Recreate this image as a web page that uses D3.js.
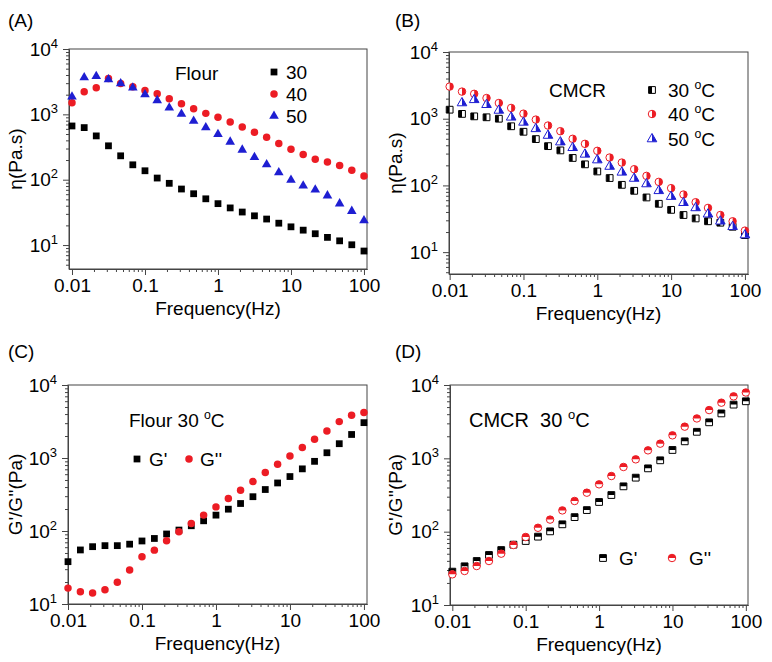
<!DOCTYPE html>
<html>
<head>
<meta charset="utf-8">
<script src="https://cdn.jsdelivr.net/npm/d3@7"></script>
<style>
  body { margin: 0; background: #fff; }
  svg { font-family: "Liberation Sans", Arial, sans-serif; }
  .axis path, .axis line { stroke: #444; }
  .axis text { font-size: 19px; fill: #000; font-family: "Liberation Sans", Arial, sans-serif; }
</style>
</head>
<body>
<svg id="chart" width="772" height="662">
  <defs>
    <clipPath id="half-left" clipPathUnits="objectBoundingBox"><rect x="0" y="0" width="0.5" height="1"/></clipPath>
    <clipPath id="half-right" clipPathUnits="objectBoundingBox"><rect x="0.5" y="0" width="0.5" height="1"/></clipPath>
    <clipPath id="half-top" clipPathUnits="objectBoundingBox"><rect x="0" y="0" width="1" height="0.5"/></clipPath>
  </defs>
</svg>
<script>
// frequency steps (Hz), 6 per decade
const freq = [0.01, 0.0147, 0.0215, 0.0316, 0.0464, 0.0681, 0.1, 0.147, 0.215, 0.316, 0.464, 0.681,
              1, 1.47, 2.15, 3.16, 4.64, 6.81, 10, 14.7, 21.5, 31.6, 46.4, 68.1, 100];

// (A) flour viscosity
const flour30 = [664, 627, 468, 330, 232, 169, 137, 106, 88, 72, 61, 51, 43, 37, 32, 28, 25, 21.6, 19, 16.9, 14.9, 13.1, 11.6, 10.1, 8.1];
const flour40 = [1507, 2213, 2547, 3532, 2965, 2636, 2317, 2064, 1733, 1453, 1219, 1035, 900, 764, 641, 532, 447, 357, 293, 243, 206, 186, 165, 140, 114];
const flour50 = [1858, 3656, 3833, 3413, 2965, 2547, 2017, 1635, 1264, 1012, 791, 627, 496, 379, 286, 221, 171, 129, 99, 81, 70, 57, 43, 33, 23.8];

// (B) CMCR viscosity
const cmcr30 = [1365, 1180, 1085, 1050, 1000, 770, 637, 495, 388, 335, 258, 207, 162, 129, 102, 83, 66, 53, 43, 36, 32, 29, 27.6, 24, 18];
const cmcr40 = [3030, 2550, 2360, 2040, 1720, 1450, 1190, 970, 790, 650, 500, 420, 330, 262, 220, 175, 139, 113, 91, 73, 56, 46, 36, 29, 21];
const cmcr50 = [null, 1720, 1920, 1620, 1330, 1050, 880, 705, 560, 446, 367, 292, 240, 192, 157, 127, 105, 83, 68, 55, 46, 37, 29, 24, 18];

// (C) flour moduli at 30 C
const flourG1 = [38, 55, 61, 63, 63, 66, 73, 79, 91, 103, 118, 138, 165, 199, 238, 295, 370, 455, 557, 710, 900, 1180, 1570, 2100, 3050];
const flourG2 = [16.5, 14.7, 14.1, 15.7, 19.8, 29.2, 44.4, 54.7, 73.4, 97.5, 127, 165, 214, 279, 362, 476, 632, 822, 1069, 1390, 1807, 2350, 3150, 3845, 4186];

// (D) CMCR moduli at 30 C
const cmcrG1 = [28.5, 33.7, 39.8, 48.1, 56.2, 66.5, 74.6, 85.5, 101, 126, 158, 197, 254, 316, 415, 545, 730, 940, 1300, 1706, 2300, 3100, 4100, 5400, 6000];
const cmcrG2 = [26.2, 29.1, 34, 39.8, 50.1, 65.8, 84.6, 113, 146, 195, 262, 340, 442, 574, 762, 969, 1285, 1585, 2059, 2704, 3500, 4550, 5740, 7000, 7900];

const xTicks = [0.01, 0.1, 1, 10, 100];
const yTicks = [10, 100, 1000, 10000];

const RED = "#ec1c24", BLUE = "#1e1ed2", BLACK = "#000";
const FONT = 19;

const svg = d3.select("#chart");

//==================== helpers ====================
const symbolSize = { square: 46, circle: 44, triangle: 40 };

function marker(g, shape, color, fill, cx, cy) {
  const type = shape === "square" ? d3.symbolSquare : shape === "circle" ? d3.symbolCircle : d3.symbolTriangle;
  const d = d3.symbol().type(type).size(symbolSize[shape])();
  const m = g.append("g").attr("transform", `translate(${cx},${cy})`);
  if (fill === "full") {
    m.append("path").attr("d", d).attr("fill", color);
    return;
  }
  m.append("path").attr("d", d).attr("fill", "#fff").attr("stroke", color).attr("stroke-width", 1);
  m.append("path").attr("d", d).attr("fill", color).attr("clip-path", `url(#half-${fill})`);
}

// text with optional superscript pieces: [{t:"30 "},{t:"o",sup:true},{t:"C"}]
function richText(g, x, y, parts, size, anchor) {
  const txt = g.append("text").attr("x", x).attr("y", y).attr("font-size", size)
    .attr("text-anchor", anchor || "start").attr("fill", "#000");
  let up = false;
  parts.forEach(p => {
    const ts = txt.append("tspan").text(p.t);
    if (p.sup && !up) { ts.attr("dy", -size * 0.42).attr("font-size", size * 0.65); up = true; }
    else if (p.sup) { ts.attr("font-size", size * 0.65); }
    else if (up) { ts.attr("dy", size * 0.42); up = false; }
  });
  return txt;
}

function minorTicks(domain) {
  const out = [];
  const e0 = Math.floor(Math.log10(domain[0])), e1 = Math.ceil(Math.log10(domain[1]));
  for (let e = e0; e <= e1; e++) {
    for (let m = 2; m <= 9; m++) {
      const v = m * Math.pow(10, e);
      if (v >= domain[0] && v <= domain[1]) out.push(v);
    }
  }
  return out;
}

//==================== panel ====================
function drawPanel(p) {
  const [L, R, T, B] = p.box;
  const x = d3.scaleLog().domain(p.xd).range([L, R]);
  const y = d3.scaleLog().domain(p.yd).range([B, T]);
  const g = svg.append("g");

  // minor ticks
  g.append("g").attr("class", "axis").attr("transform", `translate(0,${B})`)
    .call(d3.axisBottom(x).tickValues(minorTicks(p.xd)).tickSize(3).tickSizeOuter(0).tickFormat(""));
  g.append("g").attr("class", "axis").attr("transform", `translate(${L},0)`)
    .call(d3.axisLeft(y).tickValues(minorTicks(p.yd)).tickSize(3).tickSizeOuter(0).tickFormat(""));

  // major x
  g.append("g").attr("class", "axis").attr("transform", `translate(0,${B})`)
    .call(d3.axisBottom(x).tickValues(xTicks).tickSize(6).tickSizeOuter(0).tickPadding(4).tickFormat(d3.format("~g")));

  // major y with 10^n labels
  const ya = g.append("g").attr("class", "axis").attr("transform", `translate(${L},0)`)
    .call(d3.axisLeft(y).tickValues(yTicks).tickSize(6).tickSizeOuter(0).tickPadding(5));
  ya.selectAll(".tick text").each(function (d) {
    const t = d3.select(this).text(null);
    t.append("tspan").text("10");
    t.append("tspan").text(Math.round(Math.log10(d))).attr("dy", -8).attr("font-size", 13);
  });

  // frame
  g.append("rect").attr("x", L).attr("y", T).attr("width", R - L).attr("height", B - T)
    .attr("fill", "none").attr("stroke", "#444").attr("stroke-width", 1);

  // data
  p.series.forEach(s => {
    s.values.forEach((v, i) => {
      if (v == null) return;
      marker(g, s.shape, s.color, s.fill, x(freq[i]), y(v));
    });
  });

  // titles
  g.append("text").attr("x", p.lx).attr("y", p.ly).attr("font-size", FONT).text(p.label);
  g.append("text").attr("x", (L + R) / 2).attr("y", B + 46).attr("font-size", FONT)
    .attr("text-anchor", "middle").text("Frequency(Hz)");
  g.append("text").attr("transform", `translate(${p.ytx},${(T + B) / 2}) rotate(-90)`)
    .attr("font-size", FONT).attr("text-anchor", "middle").text(p.ytitle);

  // legend
  p.notes.forEach(n => richText(g, n.x, n.y, n.parts, n.size || FONT));
  p.legend.forEach(l => {
    const s = p.series[l.s];
    marker(g, s.shape, s.color, s.fill, l.mx, l.my);
    richText(g, l.tx, l.my + 7, l.parts, FONT);
  });
}

const degC = t => [{ t: t + " " }, { t: "o", sup: true }, { t: "C" }];

const panels = [
  {
    label: "(A)", lx: 8, ly: 27, box: [69, 367, 49, 269], xd: [0.0091, 110], yd: [4.3, 1e4],
    ytitle: "η(Pa.s)", ytx: 22,
    series: [
      { values: flour30, shape: "square", color: BLACK, fill: "full" },
      { values: flour40, shape: "circle", color: RED, fill: "full" },
      { values: flour50, shape: "triangle", color: BLUE, fill: "full" }
    ],
    notes: [{ x: 175, y: 80, parts: [{ t: "Flour" }] }],
    legend: [
      { s: 0, mx: 274, my: 72, tx: 286, parts: [{ t: "30" }] },
      { s: 1, mx: 274, my: 94, tx: 286, parts: [{ t: "40" }] },
      { s: 2, mx: 274, my: 116, tx: 286, parts: [{ t: "50" }] }
    ]
  },
  {
    label: "(B)", lx: 395, ly: 27, box: [449, 748, 52, 274], xd: [0.0098, 110], yd: [4.7, 1e4],
    ytitle: "η(Pa.s)", ytx: 402,
    series: [
      { values: cmcr30, shape: "square", color: BLACK, fill: "left" },
      { values: cmcr40, shape: "circle", color: RED, fill: "right" },
      { values: cmcr50, shape: "triangle", color: BLUE, fill: "right" }
    ],
    notes: [{ x: 549, y: 97, parts: [{ t: "CMCR" }] }],
    legend: [
      { s: 0, mx: 652, my: 90, tx: 668, parts: degC("30") },
      { s: 1, mx: 652, my: 114, tx: 668, parts: degC("40") },
      { s: 2, mx: 652, my: 139, tx: 668, parts: degC("50") }
    ]
  },
  {
    label: "(C)", lx: 8, ly: 358, box: [68, 367, 385, 604], xd: [0.01, 110], yd: [10, 1e4],
    ytitle: "G'/G''(Pa)", ytx: 22,
    series: [
      { values: flourG1, shape: "square", color: BLACK, fill: "full" },
      { values: flourG2, shape: "circle", color: RED, fill: "full" }
    ],
    notes: [{ x: 129, y: 427, parts: [{ t: "Flour 30 " }, { t: "o", sup: true }, { t: "C" }] }],
    legend: [
      { s: 0, mx: 137, my: 459, tx: 149, parts: [{ t: "G'" }] },
      { s: 1, mx: 189, my: 459, tx: 200, parts: [{ t: "G''" }] }
    ]
  },
  {
    label: "(D)", lx: 395, ly: 358, box: [450, 748, 385, 605], xd: [0.0093, 107], yd: [10, 1e4],
    ytitle: "G'/G''(Pa)", ytx: 402,
    series: [
      { values: cmcrG1, shape: "square", color: BLACK, fill: "top" },
      { values: cmcrG2, shape: "circle", color: RED, fill: "top" }
    ],
    notes: [{ x: 469, y: 427, size: 20, parts: [{ t: "CMCR\u00A0\u00A030 " }, { t: "o", sup: true }, { t: "C" }] }],
    legend: [
      { s: 0, mx: 603, my: 558, tx: 619, parts: [{ t: "G'" }] },
      { s: 1, mx: 672, my: 558, tx: 689, parts: [{ t: "G''" }] }
    ]
  }
];

panels.forEach(drawPanel);
</script>
</body>
</html>
